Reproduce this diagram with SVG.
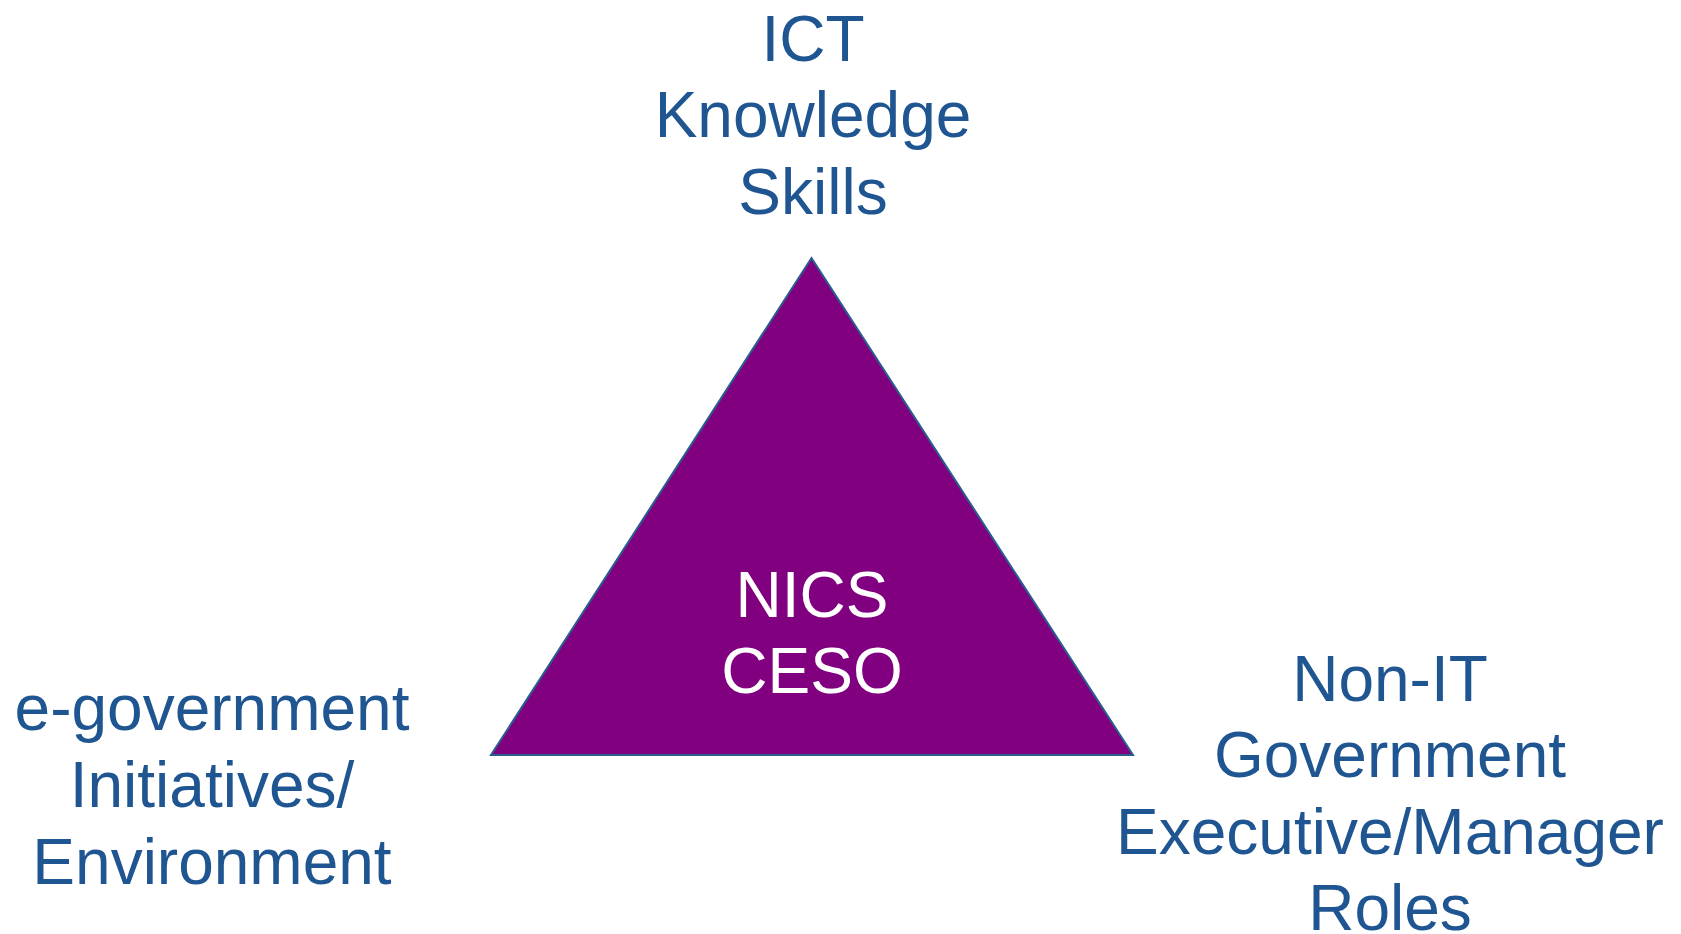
<svg xmlns="http://www.w3.org/2000/svg" width="1681" height="934" viewBox="0 0 1681 934">
<style>
text{font-family:"Liberation Sans",Arial,sans-serif;font-size:64px;text-anchor:middle}
.lbl{fill:#1F5591}
.in{fill:#FFFFFF}
.tri{fill:#800080;stroke:#2A5D8F;stroke-width:2}
</style>
<rect width="1681" height="934" fill="#FFFFFF"/>
<g id="connectors"/>
<g id="center">
<polygon class="tri" points="811.5,258 1133,755 491,755"/>
<text class="in" x="812" y="617">NICS</text>
<text class="in" x="812" y="693">CESO</text>
</g>
<g id="top">
<text class="lbl" x="813" y="61">ICT</text>
<text class="lbl" x="813" y="137">Knowledge</text>
<text class="lbl" x="813" y="214">Skills</text>
</g>
<g id="left">
<text class="lbl" x="212" y="730">e-government</text>
<text class="lbl" x="212" y="807">Initiatives/</text>
<text class="lbl" x="212" y="884">Environment</text>
</g>
<g id="right">
<text class="lbl" x="1390" y="701">Non-IT</text>
<text class="lbl" x="1390" y="777">Government</text>
<text class="lbl" x="1390" y="854">Executive/Manager</text>
<text class="lbl" x="1390" y="930">Roles</text>
</g>
</svg>
